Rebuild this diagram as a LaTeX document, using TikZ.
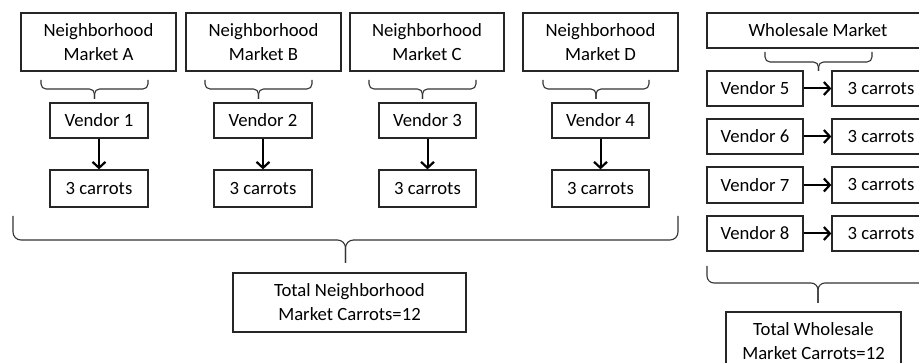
\documentclass[tikz,border=0pt]{standalone}
\usepackage{fontspec}
\setmainfont{Carlito}
\usetikzlibrary{arrows.meta}
\tikzset{
  box/.style={draw=black!85, line width=1.3pt, inner sep=0pt, align=center, text=black,
    font=\fontsize{18.7}{24}\selectfont},
  brc/.style={draw=black!80, line width=1.1pt, rounded corners=6pt},
  flow/.style={draw=black, line width=2pt, -{Straight Barb[length=6pt,width=13pt,line width=2.2pt]}}
}
\newcommand\mybrace[7]{% x1 x2 xc ytop ymid ytip radius
  \draw[brc, rounded corners=#7] (#1,#4) -- (#1,#5) -- (#3,#5) -- (#3,#6);
  \draw[brc, rounded corners=#7] (#2,#4) -- (#2,#5) -- (#3,#5) -- (#3,#6);
}
\begin{document}
\begin{tikzpicture}[x=1pt,y=-1pt]
\useasboundingbox (0,0) rectangle (919,363);
\clip (0,0) rectangle (919,363);
% neighborhood markets
\node[box, minimum width=155pt, minimum height=58pt] (mA) at (98.5,42) {Neighborhood\\Market A};
\node[box, minimum width=155pt, minimum height=58pt] (mB) at (263.5,42) {Neighborhood\\Market B};
\node[box, minimum width=154pt, minimum height=58pt] (mC) at (427,42) {Neighborhood\\Market C};
\node[box, minimum width=155pt, minimum height=58pt] (mD) at (600.5,42) {Neighborhood\\Market D};
% vendors
\node[box, minimum width=98pt, minimum height=35pt] (v1) at (99,120.5) {Vendor 1};
\node[box, minimum width=98pt, minimum height=35pt] (v2) at (263,120.5) {Vendor 2};
\node[box, minimum width=97pt, minimum height=35pt] (v3) at (427.5,120.5) {Vendor 3};
\node[box, minimum width=97pt, minimum height=35pt] (v4) at (600.5,120.5) {Vendor 4};
% carrots
\node[box, minimum width=98pt, minimum height=37pt] (c1) at (99,188.5) {3 carrots};
\node[box, minimum width=98pt, minimum height=37pt] (c2) at (263,188.5) {3 carrots};
\node[box, minimum width=97pt, minimum height=37pt] (c3) at (427.5,188.5) {3 carrots};
\node[box, minimum width=97pt, minimum height=37pt] (c4) at (600.5,188.5) {3 carrots};
\foreach \i in {1,2,3,4}{\draw[flow] (v\i.south) -- (c\i.north);}
% small braces
\mybrace{41}{148}{94.5}{80}{89}{99}{5pt}
\mybrace{205}{312}{258.5}{80}{89}{99}{5pt}
\mybrace{369}{476}{422.5}{80}{89}{99}{5pt}
\mybrace{543}{649}{596}{80}{89}{99}{5pt}
% big brace
\mybrace{13}{678}{345.5}{216}{240}{263}{8pt}
\node[box, minimum width=233pt, minimum height=59pt] (tN) at (349.5,302.5) {Total Neighborhood\\Market Carrots=12};
% wholesale
\node[box, minimum width=222pt, minimum height=35pt] (wM) at (818,30.5) {Wholesale Market};
\mybrace{765}{872}{818.5}{52}{62}{71}{5pt}
\node[box, minimum width=96pt, minimum height=35pt] (v5) at (755,88.5) {Vendor 5};
\node[box, minimum width=96pt, minimum height=35pt] (v6) at (755,136.5) {Vendor 6};
\node[box, minimum width=96pt, minimum height=36pt] (v7) at (755,185) {Vendor 7};
\node[box, minimum width=96pt, minimum height=35pt] (v8) at (755,233.5) {Vendor 8};
\node[box, minimum width=98pt, minimum height=35pt] (c5) at (881,88.5) {3 carrots};
\node[box, minimum width=98pt, minimum height=35pt] (c6) at (881,136.5) {3 carrots};
\node[box, minimum width=98pt, minimum height=36pt] (c7) at (881,185) {3 carrots};
\node[box, minimum width=98pt, minimum height=35pt] (c8) at (881,233.5) {3 carrots};
\foreach \i in {5,6,7,8}{\draw[flow] (v\i.east) -- (c\i.west);}
\mybrace{707}{929}{818}{266}{283}{303}{7pt}
\node[box, minimum width=175pt, minimum height=59pt] (tW) at (813.5,341.5) {Total Wholesale\\Market Carrots=12};
\end{tikzpicture}
\end{document}
